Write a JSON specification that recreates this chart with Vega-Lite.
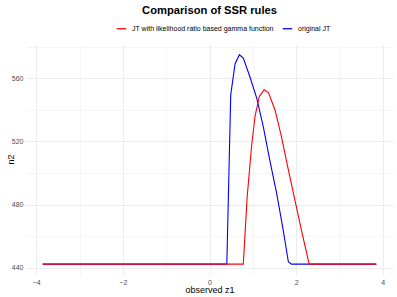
{
  "$schema": "https://vega.github.io/schema/vega-lite/v6.json",
  "width": 367,
  "height": 231,
  "autosize": {"type": "none"},
  "padding": {"left": 26, "top": 44, "right": 4, "bottom": 22},
  "background": "white",
  "title": {"text": "Comparison of SSR rules", "font": "Liberation Sans", "fontSize": 11.2, "fontWeight": "bold", "color": "black", "anchor": "middle", "offset": 6.5},
  "config": {
    "view": {"stroke": null},
    "font": "Liberation Sans"
  },
  "data": {"values": [
    {"z1": -3.85, "n2": 442.3, "rule": "original JT"},
    {"z1": 0.40, "n2": 442.3, "rule": "original JT"},
    {"z1": 0.49, "n2": 549.4, "rule": "original JT"},
    {"z1": 0.59, "n2": 569.0, "rule": "original JT"},
    {"z1": 0.69, "n2": 574.8, "rule": "original JT"},
    {"z1": 0.78, "n2": 572.7, "rule": "original JT"},
    {"z1": 0.93, "n2": 561.0, "rule": "original JT"},
    {"z1": 1.09, "n2": 547.3, "rule": "original JT"},
    {"z1": 1.24, "n2": 529.4, "rule": "original JT"},
    {"z1": 1.39, "n2": 508.2, "rule": "original JT"},
    {"z1": 1.55, "n2": 487.1, "rule": "original JT"},
    {"z1": 1.70, "n2": 463.9, "rule": "original JT"},
    {"z1": 1.82, "n2": 443.8, "rule": "original JT"},
    {"z1": 1.89, "n2": 442.3, "rule": "original JT"},
    {"z1": 3.85, "n2": 442.3, "rule": "original JT"},
    {"z1": -3.85, "n2": 442.3, "rule": "JT with likelihood ratio based gamma function"},
    {"z1": 0.78, "n2": 442.3, "rule": "JT with likelihood ratio based gamma function"},
    {"z1": 0.87, "n2": 485.0, "rule": "JT with likelihood ratio based gamma function"},
    {"z1": 0.97, "n2": 516.7, "rule": "JT with likelihood ratio based gamma function"},
    {"z1": 1.05, "n2": 535.7, "rule": "JT with likelihood ratio based gamma function"},
    {"z1": 1.15, "n2": 548.4, "rule": "JT with likelihood ratio based gamma function"},
    {"z1": 1.26, "n2": 552.6, "rule": "JT with likelihood ratio based gamma function"},
    {"z1": 1.36, "n2": 550.9, "rule": "JT with likelihood ratio based gamma function"},
    {"z1": 1.51, "n2": 540.0, "rule": "JT with likelihood ratio based gamma function"},
    {"z1": 1.66, "n2": 523.0, "rule": "JT with likelihood ratio based gamma function"},
    {"z1": 1.82, "n2": 501.9, "rule": "JT with likelihood ratio based gamma function"},
    {"z1": 1.97, "n2": 482.9, "rule": "JT with likelihood ratio based gamma function"},
    {"z1": 2.12, "n2": 463.9, "rule": "JT with likelihood ratio based gamma function"},
    {"z1": 2.30, "n2": 442.3, "rule": "JT with likelihood ratio based gamma function"},
    {"z1": 3.85, "n2": 442.3, "rule": "JT with likelihood ratio based gamma function"}
  ]},
  "mark": {"type": "line", "strokeWidth": 1.1, "interpolate": "linear"},
  "encoding": {
    "x": {"field": "z1", "type": "quantitative", "title": "observed z1",
      "scale": {"domain": [-4.235, 4.235], "nice": false, "zero": false},
      "axis": {"values": [-4, -3, -2, -1, 0, 1, 2, 3, 4],
        "labelExpr": "datum.value % 2 === 0 ? datum.label : ''",
        "domain": false, "ticks": false, "labelFontSize": 7, "labelColor": "#4d4d4d", "labelPadding": 3,
        "titleFontSize": 9, "titleFontWeight": "normal", "titleColor": "black", "titlePadding": 0,
        "gridColor": "#ebebeb", "gridWidth": {"condition": {"test": "datum.value % 2 === 0", "value": 0.9}, "value": 0.5}}},
    "y": {"field": "n2", "type": "quantitative", "title": "n2",
      "scale": {"domain": [435.4, 581.6], "nice": false, "zero": false},
      "axis": {"values": [440, 460, 480, 500, 520, 540, 560, 580],
        "labelExpr": "datum.value % 40 === 0 ? datum.label : ''",
        "domain": false, "ticks": false, "labelFontSize": 7, "labelColor": "#4d4d4d", "labelPadding": 3,
        "titleFontSize": 9, "titleFontWeight": "normal", "titleColor": "black", "titleX": -16, "titleY": 115, "titleBaseline": "middle",
        "gridColor": "#ebebeb", "gridWidth": {"condition": {"test": "datum.value % 40 === 0", "value": 0.9}, "value": 0.5}}},
    "color": {"field": "rule", "type": "nominal",
      "scale": {"domain": ["JT with likelihood ratio based gamma function", "original JT"], "range": ["#ff0000", "#0000ff"]},
      "legend": {"orient": "none", "legendX": 90, "legendY": -21, "direction": "horizontal", "title": null, "labelFontSize": 7, "labelColor": "black",
        "symbolType": "stroke", "symbolSize": 90, "symbolStrokeWidth": 1.3, "columnPadding": 6, "labelOffset": 5}}
  }
}
